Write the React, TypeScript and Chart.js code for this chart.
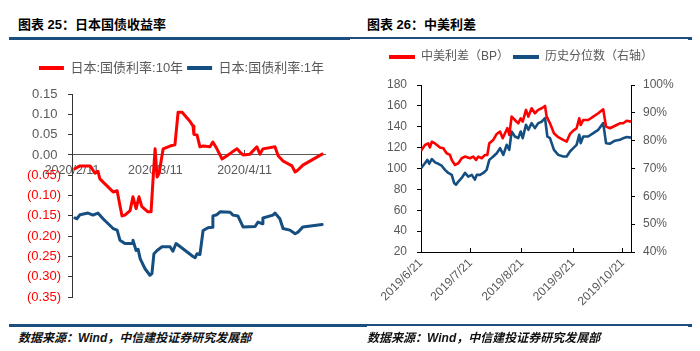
import React, { useEffect, useRef } from 'react';
import { Chart, registerables } from 'chart.js';

Chart.register(...registerables);

const FONT = "'Liberation Sans', 'Noto Sans CJK SC', Arial, sans-serif";
const RED = '#FF0000';
const BLUE = '#154E80';
const GRAY = '#595959';
const RULE = '#1C4E80';

// ---------- Chart 25: Japan government bond yields (x = days since 2020/2/11) ----------
const jpTickDays = [0, 29, 60];
const jpTickLabels = ['2020/2/11', '2020/3/11', '2020/4/11'];

const jp10Days = [1.0, 2.8, 6.3, 8.0, 9.0, 9.7, 14.3, 15.7, 16.0, 17.4, 18.4, 20.2, 21.2, 22.3, 23.3, 24.3, 26.4, 27.5, 28.2, 28.9, 29.6, 30.3, 31.3, 31.7, 34.1, 35.8, 36.9, 38.3, 41.0, 42.1, 42.4, 43.5, 44.5, 45.6, 48.0, 49.0, 50.4, 52.2, 53.9, 55.7, 57.4, 58.4, 59.5, 61.9, 64.3, 65.4, 66.4, 70.6, 71.7, 73.4, 76.5, 77.6, 78.6, 80.3, 87.0];
const jp10Yield = [-0.034, -0.027, -0.027, -0.045, -0.040, -0.059, -0.091, -0.088, -0.100, -0.150, -0.148, -0.137, -0.103, -0.132, -0.103, -0.127, -0.140, -0.140, -0.059, 0.015, -0.054, -0.045, -0.002, 0.015, 0.022, 0.025, 0.105, 0.105, 0.083, 0.071, 0.051, 0.049, 0.020, 0.022, 0.020, 0.032, 0.015, -0.010, -0.002, 0.007, 0.015, 0.007, 0.000, 0.002, 0.020, 0.002, 0.015, 0.020, -0.002, -0.015, -0.027, -0.042, -0.037, -0.025, 0.002];

const jp1Days = [1.0, 1.7, 2.8, 5.6, 7.3, 9.0, 10.8, 14.3, 15.7, 16.7, 18.4, 20.9, 21.2, 22.3, 23.0, 23.7, 25.4, 27.1, 27.8, 28.5, 29.6, 31.3, 34.1, 35.1, 36.2, 42.1, 42.8, 43.5, 44.5, 45.6, 47.3, 48.7, 49.0, 50.4, 51.5, 55.0, 56.0, 57.7, 59.5, 63.7, 64.7, 66.1, 66.4, 69.9, 70.6, 72.3, 73.4, 75.8, 77.6, 78.6, 80.3, 87.0];
const jp1Yield = [-0.155, -0.157, -0.147, -0.143, -0.148, -0.143, -0.157, -0.181, -0.185, -0.210, -0.218, -0.218, -0.210, -0.235, -0.232, -0.255, -0.280, -0.296, -0.292, -0.243, -0.235, -0.226, -0.226, -0.237, -0.218, -0.250, -0.253, -0.243, -0.245, -0.186, -0.179, -0.178, -0.150, -0.147, -0.140, -0.141, -0.148, -0.150, -0.177, -0.176, -0.165, -0.169, -0.155, -0.148, -0.143, -0.157, -0.181, -0.185, -0.194, -0.190, -0.177, -0.171];

// ---------- Chart 26: China-US spread (x = days since 2019/6/21) ----------
const usTickDays = [0, 30, 61, 92, 122];
const usTickLabels = ['2019/6/21', '2019/7/21', '2019/8/21', '2019/9/21', '2019/10/21'];

const spreadDays = [0, 2.4, 4.4, 5.4, 6.5, 8.5, 11.5, 13.5, 15.5, 17.5, 18.6, 20.6, 22.6, 24.6, 26.6, 29.6, 31.6, 33.3, 34.6, 36.7, 38.7, 40.1, 41.3, 43.7, 45.8, 47.8, 49.4, 50.8, 52.2, 53.4, 54.8, 56.8, 58.8, 60.3, 61.5, 63.5, 64.9, 66.9, 68.9, 70.9, 73.0, 75.0, 76.0, 78.0, 80.4, 83.0, 86.0, 88.1, 90.1, 92.1, 94.1, 95.7, 96.6, 98.1, 101.1, 104.2, 107.2, 110.2, 111.9, 114.3, 118.3, 120.3, 122.3, 124.4, 127];
const spreadBP = [117.1, 122.5, 124, 120.2, 125.6, 124, 120.2, 119.4, 114.6, 113, 108.2, 103.4, 105, 109.8, 111.4, 109.8, 111.4, 108.2, 111.4, 109.8, 113, 113, 124.2, 127.4, 133.1, 135.4, 129, 133.8, 138.6, 132.2, 149.7, 146.5, 143.3, 148.1, 144.9, 156.1, 149.7, 157.7, 152.9, 156.1, 157.7, 159.9, 149.7, 143.3, 133.8, 130, 127.4, 125.8, 133.1, 136.3, 138.6, 148.1, 141.7, 146.5, 146.5, 149.7, 152.9, 156.7, 140.1, 138.6, 141.7, 143.3, 143.3, 145.8, 144.9];

const pctDays = [0, 2.4, 3.8, 5.0, 6.5, 8.5, 10.5, 12.5, 14.5, 16.5, 18.6, 20.0, 21.2, 22.6, 24.6, 26.6, 28.6, 30.7, 32.6, 33.7, 35.7, 37.7, 39.7, 41.3, 43.7, 45.8, 47.8, 49.8, 51.8, 53.4, 54.8, 56.8, 58.8, 60.3, 61.5, 63.5, 64.9, 66.9, 68.9, 70.9, 73.0, 75.0, 76.4, 78.0, 80.4, 83.0, 86.0, 88.1, 90.1, 92.1, 94.1, 95.7, 96.6, 98.1, 101.1, 104.2, 107.2, 110.2, 111.9, 114.3, 117.3, 120.3, 122.3, 124.4, 127];
const pctValue = [70.1, 71.9, 73.1, 71.7, 73.4, 72.2, 71.7, 71.0, 69.5, 68.4, 67.7, 64.8, 64.2, 65.3, 66.6, 68.4, 67.1, 67.7, 66.0, 67.7, 67.7, 68.4, 69.5, 73.1, 74.3, 75.5, 77.3, 74.9, 78.5, 76.7, 83.3, 81.5, 80.9, 83.3, 80.9, 85.7, 83.9, 86.3, 84.5, 86.3, 86.8, 88.1, 81.5, 80.9, 76.7, 74.9, 74.3, 74.3, 76.1, 77.3, 78.5, 82.1, 79.1, 81.5, 81.5, 82.7, 83.9, 86.3, 79.1, 78.9, 80.0, 80.3, 80.9, 81.3, 81.1];

const toPoints = (xs: number[], ys: number[]) => xs.map((x, i) => ({ x, y: ys[i] }));

const legendGap = (extra: number) => ({
  id: 'legendGap',
  beforeInit(chart: any) {
    const legend = chart.legend;
    if (!legend) return;
    const orig = legend.fit;
    legend.fit = function () {
      orig.call(this);
      this.height += extra;
    };
  },
});

const legendLabels = (chart: any) =>
  (Chart.defaults.plugins.legend.labels.generateLabels as any)(chart).map((l: any) => ({
    ...l,
    lineWidth: 0,
    fillStyle: l.strokeStyle,
  }));

function JapanChart() {
  const ref = useRef<HTMLCanvasElement | null>(null);
  useEffect(() => {
    if (!ref.current) return;
    const chart = new Chart(ref.current, {
      type: 'line',
      data: {
        datasets: [
          {
            label: '日本:国债利率:10年',
            data: toPoints(jp10Days, jp10Yield),
            borderColor: RED,
            backgroundColor: RED,
            borderWidth: 3,
            pointRadius: 0,
            borderJoinStyle: 'round',
            borderCapStyle: 'round',
            yAxisID: 'y',
          },
          {
            label: '日本:国债利率:1年',
            data: toPoints(jp1Days, jp1Yield),
            borderColor: BLUE,
            backgroundColor: BLUE,
            borderWidth: 3,
            pointRadius: 0,
            borderJoinStyle: 'round',
            borderCapStyle: 'round',
            yAxisID: 'y',
          },
        ],
      },
      options: {
        animation: false,
        responsive: false,
        devicePixelRatio: 1,
        layout: { padding: { top: 7.5, left: 0, right: 0, bottom: 14 } },
        plugins: {
          tooltip: { enabled: false },
          legend: {
            position: 'top',
            labels: {
              boxWidth: 25,
              boxHeight: 4,
              padding: 4,
              color: GRAY,
              font: { size: 13, family: FONT },
              generateLabels: legendLabels,
            },
          },
        },
        scales: {
          x: {
            type: 'linear',
            position: { y: 0 } as any,
            min: 0,
            max: 88,
            afterBuildTicks: (s: any) => {
              s.ticks = jpTickDays.map((v) => ({ value: v }));
            },
            ticks: {
              autoSkip: false,
              maxRotation: 0,
              minRotation: 0,
              color: GRAY,
              padding: 13,
              font: { size: 12.5, family: FONT },
              callback: (_v: any, i: number) => jpTickLabels[i] ?? '',
            },
            grid: { drawOnChartArea: false, drawTicks: true, tickLength: -5, color: '#595959' },
            border: { display: true, color: '#595959', width: 1 },
          },
          y: {
            type: 'linear',
            position: 'left',
            min: -0.35,
            max: 0.15,
            afterFit: (s: any) => {
              s.width = 72;
            },
            ticks: {
              stepSize: 0.05,
              padding: 7,
              font: { size: 13, family: FONT },
              color: (c: any) => (c.tick && c.tick.value < -1e-9 ? RED : GRAY),
              callback: (v: any) => {
                const n = Number(v);
                return n < -1e-9 ? `(${(-n).toFixed(2)})` : `${Math.abs(n).toFixed(2)} `;
              },
            },
            grid: { drawOnChartArea: false, drawTicks: true, tickLength: 4, color: '#333333' },
            border: { display: true, color: '#333333', width: 1 },
          },
          pad: {
            type: 'linear',
            position: 'right',
            display: true,
            afterFit: (s: any) => {
              s.width = 38;
            },
            ticks: { display: false },
            grid: { display: false, drawTicks: false },
            border: { display: false },
          },
        },
      } as any,
      plugins: [legendGap(9.5)],
    });
    return () => chart.destroy();
  }, []);
  return <canvas ref={ref} width={363} height={262} style={{ width: 363, height: 262, display: 'block' }} />;
}

function SpreadChart() {
  const ref = useRef<HTMLCanvasElement | null>(null);
  useEffect(() => {
    if (!ref.current) return;
    const axisFont = { size: 12, family: FONT };
    const chart = new Chart(ref.current, {
      type: 'line',
      data: {
        datasets: [
          {
            label: '中美利差（BP）',
            data: toPoints(spreadDays, spreadBP),
            borderColor: RED,
            backgroundColor: RED,
            borderWidth: 2.6,
            pointRadius: 0,
            borderJoinStyle: 'round',
            yAxisID: 'y',
          },
          {
            label: '历史分位数（右轴）',
            data: toPoints(pctDays, pctValue),
            borderColor: BLUE,
            backgroundColor: BLUE,
            borderWidth: 2.6,
            pointRadius: 0,
            borderJoinStyle: 'round',
            yAxisID: 'y1',
          },
        ],
      },
      options: {
        animation: false,
        responsive: false,
        devicePixelRatio: 1,
        layout: { padding: { top: 7, left: 0, right: 8, bottom: 0 } },
        plugins: {
          tooltip: { enabled: false },
          legend: {
            position: 'top',
            labels: {
              boxWidth: 26,
              boxHeight: 4,
              padding: 4,
              color: GRAY,
              font: axisFont,
              generateLabels: legendLabels,
            },
          },
        },
        scales: {
          x: {
            type: 'linear',
            position: 'bottom',
            min: 0,
            max: 127,
            afterBuildTicks: (s: any) => {
              s.ticks = usTickDays.map((v) => ({ value: v }));
            },
            afterFit: (s: any) => {
              s.height = 60;
            },
            ticks: {
              autoSkip: false,
              minRotation: 45,
              maxRotation: 45,
              color: GRAY,
              padding: 8,
              font: axisFont,
              callback: (_v: any, i: number) => usTickLabels[i] ?? '',
            },
            grid: { drawOnChartArea: false, drawTicks: true, tickLength: -4, color: '#000000' },
            border: { display: true, color: '#000000', width: 1 },
          },
          y: {
            type: 'linear',
            position: 'left',
            min: 20,
            max: 180,
            afterFit: (s: any) => {
              s.width = 71;
            },
            ticks: { stepSize: 20, color: GRAY, padding: 10, font: axisFont },
            grid: { drawOnChartArea: false, drawTicks: true, tickLength: 4, color: '#000000' },
            border: { display: true, color: '#000000', width: 1 },
          },
          y1: {
            type: 'linear',
            position: 'right',
            min: 40,
            max: 100,
            afterFit: (s: any) => {
              s.width = 61;
            },
            ticks: {
              stepSize: 10,
              color: GRAY,
              padding: 8,
              font: axisFont,
              callback: (v: any) => `${v}%`,
            },
            grid: { drawOnChartArea: false, drawTicks: true, tickLength: 4, color: '#000000' },
            border: { display: true, color: '#000000', width: 1 },
          },
        },
      } as any,
      plugins: [legendGap(12)],
    });
    return () => chart.destroy();
  }, []);
  return <canvas ref={ref} width={350} height={272} style={{ width: 350, height: 272, display: 'block' }} />;
}

const titleStyle: React.CSSProperties = {
  position: 'absolute',
  top: 16,
  fontFamily: FONT,
  fontWeight: 'bold',
  fontSize: 13,
  lineHeight: '18px',
  color: '#000',
  whiteSpace: 'nowrap',
};

const sourceStyle: React.CSSProperties = {
  position: 'absolute',
  top: 329,
  fontFamily: FONT,
  fontWeight: 'bold',
  fontStyle: 'italic',
  fontSize: 12,
  lineHeight: '18px',
  color: '#111',
  whiteSpace: 'nowrap',
};

export default function App() {
  return (
    <div
      style={{
        position: 'fixed',
        left: 0,
        top: 0,
        width: 700,
        height: 351,
        background: '#fff',
        overflow: 'hidden',
      }}
    >
      <div style={{ ...titleStyle, left: 18 }}>图表 25：日本国债收益率</div>
      <div style={{ ...titleStyle, left: 367 }}>图表 26：中美利差</div>
      <div style={{ position: 'absolute', left: 9, top: 37, width: 341, height: 3, background: RULE }} />
      <div style={{ position: 'absolute', left: 350, top: 37, width: 338, height: 2, background: RULE }} />
      <div style={{ position: 'absolute', left: 688, top: 37, width: 4, height: 3, background: RULE }} />

      <div style={{ position: 'absolute', left: 0, top: 50 }}>
        <JapanChart />
      </div>
      <div style={{ position: 'absolute', left: 350, top: 40 }}>
        <SpreadChart />
      </div>

      <div style={{ position: 'absolute', left: 9, top: 324, width: 358, height: 3, background: RULE }} />
      <div style={{ position: 'absolute', left: 367, top: 324, width: 321, height: 2, background: RULE }} />
      <div style={{ position: 'absolute', left: 688, top: 324, width: 4, height: 3, background: RULE }} />
      <div style={{ ...sourceStyle, left: 18 }}>数据来源：Wind，中信建投证券研究发展部</div>
      <div style={{ ...sourceStyle, left: 367 }}>数据来源：Wind，中信建投证券研究发展部</div>
    </div>
  );
}
